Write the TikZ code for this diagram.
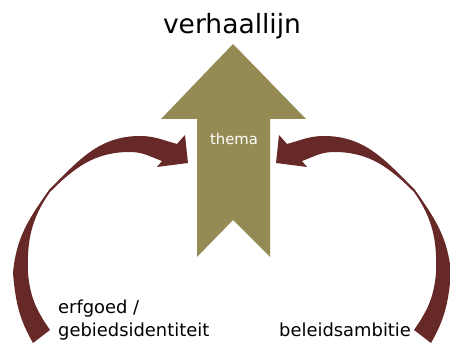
\documentclass[tikz,border=0pt]{standalone}
\usepackage{fontspec}
\setmainfont{DejaVu Sans}
\usepackage{tikz}
\usetikzlibrary{positioning}

\definecolor{themaolive}{HTML}{948A54}
\definecolor{bandred}{HTML}{672828}

\tikzset{
	bigarrow/.style={fill=themaolive},
	bendarrow/.style={fill=bandred},
	bigtext/.style={font=\fontsize{26.5}{30}\selectfont, inner sep=0pt},
	labeltext/.style={font=\fontsize{17.9}{23}\selectfont, inner sep=0pt, align=left},
	thematext/.style={font=\fontsize{14.8}{17}\selectfont, text=white, inner sep=0pt}
}

\begin{document}
\begin{tikzpicture}[x=1pt,y=1pt]
	\useasboundingbox (0,0) rectangle (450,344);

	%Draw the thema arrow
	\fill [bigarrow] (233,300) -- (306,225) -- (270,225) -- (270,87) -- (233,124) -- (197,87) -- (197,225) -- (161,225) -- cycle;
	\node [thematext, anchor=base] (thema) at (234,199) {thema};

	%Top label
	\node [bigtext, anchor=base] (verhaallijn) at (232,310) {verhaallijn};

	%Left bent arrow
	\fill [bendarrow] (50,14) to [out=125,in=-85] (28,71) to [out=92,in=-125] (50,152) to [out=45,in=180] (130,192) to [out=0,in=160] (162,183) -- (157,177) -- (188,181) -- (185,209) -- (177,200) to [out=165,in=0] (140,208) to [out=180,in=45] (49,154) to [out=-125,in=85] (13,71) to [out=-85,in=120] (33,1) -- cycle;

	%Right bent arrow, mirrored
	\begin{scope}[xshift=464pt,xscale=-1]
		\fill [bendarrow] (50,14) to [out=125,in=-85] (28,71) to [out=92,in=-125] (50,152) to [out=45,in=180] (130,192) to [out=0,in=160] (162,183) -- (157,177) -- (188,181) -- (185,209) -- (177,200) to [out=165,in=0] (140,208) to [out=180,in=45] (49,154) to [out=-125,in=85] (13,71) to [out=-85,in=120] (33,1) -- cycle;
	\end{scope}

	%Bottom labels
	\node [labeltext, anchor=base west] (erfgoed) at (58,7) {erfgoed /\\gebiedsidentiteit};
	\node [labeltext, anchor=base west] (beleid) at (279,7) {beleidsambitie};
\end{tikzpicture}
\end{document}
